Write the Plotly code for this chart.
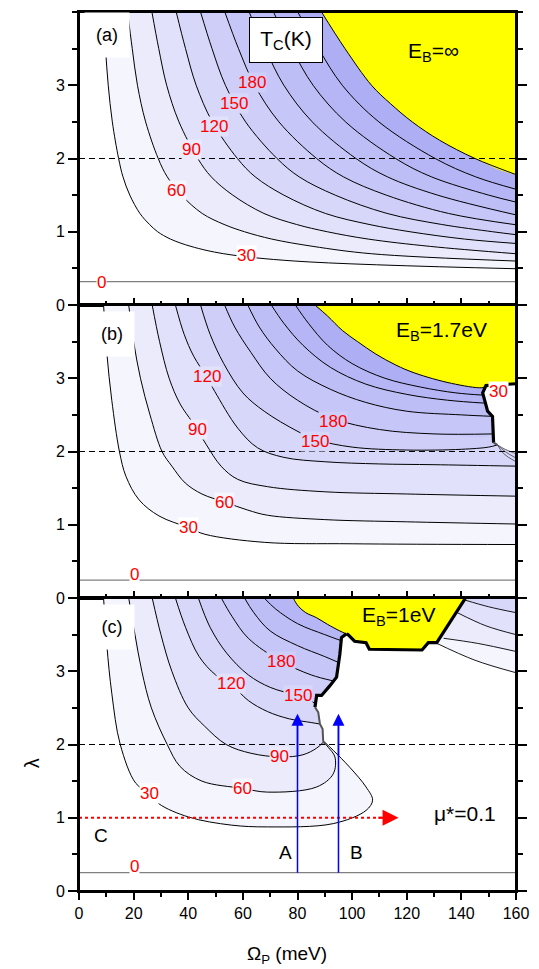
import plotly.graph_objects as go
from plotly.subplots import make_subplots

X_RANGE = [0, 160]
Y_RANGE = [0, 4]
FAR_X, FAR_Y = 200, 4.6          # closure points placed outside the visible axes
FONT = "Liberation Sans, Arial, sans-serif"

LEVELS = [30, 60, 90, 120, 150, 180, 210, 240, 270]
BAND = {0: "#FFFFFF", 30: "#F5F5FE", 60: "#EBEBFC", 90: "#E1E1FB", 120: "#D7D7FA",
        150: "#CECEF9", 180: "#C6C6F8", 210: "#BEBEF7", 240: "#B6B6F6", 270: "#AEAEF5"}
YELLOW = "#FFFF00"

# ---------------- panel (a): E_B = infinity ----------------
A_X = {
    30: [8.9, 9.7, 10.7, 12.2, 14.5, 16.1, 18.6, 22.3, 25.8, 28.8, 33.5, 41.0, 53.0, 79.0, 160],
    60: [17.8, 19.5, 21.4, 24.4, 29.0, 32.3, 37.5, 45.1, 53.1, 60.6, 70.6, 85.7, 107.0, 160],
    90: [26.7, 29.2, 32.1, 36.6, 43.5, 48.4, 56.3, 67.7, 79.6, 90.9, 105.9, 128.6, 160],
    120: [35.6, 39.0, 42.9, 48.8, 58.0, 64.5, 75.0, 90.2, 106.2, 121.2, 141.2, 160],
    150: [44.5, 48.7, 53.6, 61.0, 72.5, 80.6, 93.8, 112.8, 132.7, 151.5, 160],
    180: [53.4, 58.4, 64.3, 73.2, 87.0, 96.8, 112.5, 135.3, 160],
    210: [62.3, 68.2, 75.0, 85.4, 101.4, 112.9, 131.3, 160],
    240: [71.2, 77.9, 85.7, 97.6, 115.9, 129.0, 150.0, 160],
    270: [80.1, 87.7, 96.4, 109.8, 130.4, 145.2, 160],
}
A_LAM = {
    30: [4.0, 3.5, 3.0, 2.5, 2.0, 1.75, 1.5, 1.25, 1.1, 1.0, 0.9, 0.8, 0.7, 0.6, 0.495],
    60: [4.0, 3.5, 3.0, 2.5, 2.0, 1.75, 1.5, 1.25, 1.1, 1.0, 0.9, 0.8, 0.7, 0.6],
    90: [4.0, 3.5, 3.0, 2.5, 2.0, 1.75, 1.5, 1.25, 1.1, 1.0, 0.9, 0.8, 0.7],
    120: [4.0, 3.5, 3.0, 2.5, 2.0, 1.75, 1.5, 1.25, 1.1, 1.0, 0.9, 0.84],
    150: [4.0, 3.5, 3.0, 2.5, 2.0, 1.75, 1.5, 1.25, 1.1, 1.0, 0.96],
    180: [4.0, 3.5, 3.0, 2.5, 2.0, 1.75, 1.5, 1.25, 1.095],
    210: [4.0, 3.5, 3.0, 2.5, 2.0, 1.75, 1.5, 1.23],
    240: [4.0, 3.5, 3.0, 2.5, 2.0, 1.75, 1.5, 1.405],
    270: [4.0, 3.5, 3.0, 2.5, 2.0, 1.75, 1.58],
}
A_YEL_X = [88.8, 97.4, 107.1, 114.0, 122.0, 132.0, 145.0, 160]
A_YEL_L = [4.0, 3.5, 3.0, 2.75, 2.5, 2.25, 2.0, 1.78]
A_ZERO = 0.32
A_LABELS = [("0", 8.2, 0.31, 0), ("30", 61.5, 0.67, 0), ("60", 35.6, 1.56, 30),
            ("90", 41.3, 2.12, 60), ("120", 49.5, 2.44, 90), ("150", 56.9, 2.75, 120),
            ("180", 63.2, 3.04, 150)]

# ---------------- panel (b): E_B = 1.7 eV ----------------
B_X = {
    30: [9.0, 10.2, 12.0, 14.8, 17.2, 22.0, 29.3, 40.1, 46.1, 67.8, 100, 160],
    60: [18.2, 20.0, 22.5, 26.0, 30.4, 34.0, 38.9, 45.0, 53.3, 61.8, 69.0, 90, 120, 160],
    90: [26.8, 29.5, 33.0, 37.0, 41.5, 46.5, 52.0, 58.1, 69, 90, 120, 160],
    120: [35.3, 38.5, 42.0, 46.7, 49.7, 58.1, 65.4, 75, 90, 110, 130, 160],
    150: [44.5, 48, 53, 60, 67.8, 79.8, 87, 100, 120, 140, 150, 153.2],
    180: [53.3, 57, 63, 70, 80, 93, 110, 130, 151.7],
    210: [61.8, 66, 72, 80, 92, 105, 120, 140, 151.4],
    240: [70.4, 75, 82, 92, 105, 120, 135, 148.8],
    270: [79.2, 84, 91, 100, 112, 125, 138, 147.9],
}
B_LAM = {
    30: [4.0, 3.34, 2.7, 2.0, 1.66, 1.34, 1.12, 0.96, 0.87, 0.76, 0.74, 0.73],
    60: [4.0, 3.5, 3.0, 2.5, 2.0, 1.8, 1.57, 1.42, 1.31, 1.20, 1.13, 1.07, 1.04, 1.01],
    90: [4.0, 3.5, 3.0, 2.65, 2.40, 2.10, 1.80, 1.62, 1.52, 1.45, 1.42, 1.39],
    120: [4.0, 3.6, 3.3, 3.02, 2.82, 2.32, 2.05, 1.92, 1.86, 1.83, 1.82, 1.80],
    150: [4.0, 3.6, 3.2, 2.8, 2.55, 2.28, 2.16, 2.06, 2.02, 2.03, 2.06, 2.09],
    180: [4.0, 3.7, 3.35, 3.0, 2.7, 2.45, 2.3, 2.24, 2.24],
    210: [4.0, 3.7, 3.4, 3.1, 2.85, 2.67, 2.55, 2.50, 2.48],
    240: [4.0, 3.75, 3.45, 3.15, 2.92, 2.78, 2.70, 2.66],
    270: [4.0, 3.75, 3.45, 3.2, 3.0, 2.88, 2.80, 2.77],
}
B_YEL_X = [86.4, 91, 96.5, 102, 108.7, 116, 123, 136.4, 147.5, 149.0, 160]
B_YEL_L = [4.0, 3.85, 3.65, 3.50, 3.33, 3.18, 3.07, 2.93, 2.87, 2.89, 2.925]
B_CAP_X = [160, 149.0]                      # thick upper edge of the white pocket
B_CAP_L = [2.925, 2.90]
B_JAG_X = [149.0, 147.8, 148.4, 149.6, 151.4, 151.8]   # thick left edge, top to bottom
B_JAG_L = [2.90, 2.80, 2.71, 2.55, 2.48, 2.12]
B_TAIL_X = [151.8, 153.2]
B_TAIL_L = [2.12, 2.09]
B_FAN = [([153.2, 156, 160], [2.09, 2.03, 1.97]),
         ([153.2, 156, 160], [2.09, 2.00, 1.91]),
         ([153.2, 155.5, 160], [2.09, 1.97, 1.86])]
B_ZERO = 0.245
B_LABELS = [("0", 20.2, 0.32, 0), ("30", 40.1, 0.96, 0), ("60", 53.3, 1.31, 30),
            ("90", 43.3, 2.30, 60), ("120", 46.7, 3.02, 90), ("150", 86.4, 2.14, 120),
            ("180", 93.1, 2.41, 150), ("30", 153.6, 2.82, 0)]

# ---------------- panel (c): E_B = 1 eV ----------------
C_X = {
    30: [9.0, 10.2, 12.0, 15.1, 20.8, 25.9, 29.3, 40.1, 55.7, 69, 93.1, 105.1, 107.5, 105.1, 99.1, 93.1, 90.0],
    60: [18.2, 20.5, 23.0, 26.5, 32.3, 37, 45, 60, 69, 87, 93.1, 93.7, 91.3, 89.6],
    90: [26.8, 30, 34, 40, 46, 53.9, 63, 73.8, 82, 87, 89.4],
    120: [35.3, 39, 44, 50, 55.7, 62, 69, 77, 85, 88.2],
    150: [43.7, 48, 54, 62, 70, 79.8, 84, 86.6],
    180: [52.1, 56, 62, 73.8, 85, 92.9],
    210: [60.6, 64, 70, 80, 90, 95.0],
    240: [67.8, 72, 80, 90, 95.8],
}
C_LAM = {
    30: [4.0, 3.35, 2.7, 2.0, 1.47, 1.33, 1.19, 1.01, 0.90, 0.875, 0.92, 1.10, 1.24, 1.42, 1.69, 1.92, 2.03],
    60: [4.0, 3.5, 3.0, 2.5, 2.0, 1.7, 1.5, 1.40, 1.35, 1.42, 1.60, 1.83, 1.96, 2.03],
    90: [4.0, 3.5, 3.0, 2.5, 2.25, 2.0, 1.88, 1.83, 1.86, 1.95, 2.03],
    120: [4.0, 3.6, 3.2, 2.95, 2.82, 2.6, 2.45, 2.35, 2.30, 2.28],
    150: [4.0, 3.6, 3.25, 2.95, 2.78, 2.67, 2.62, 2.55],
    180: [4.0, 3.75, 3.45, 3.14, 2.95, 2.87],
    210: [4.0, 3.8, 3.55, 3.35, 3.2, 3.12],
    240: [4.0, 3.85, 3.65, 3.5, 3.42],
}
C_YEL_X = [78.5, 79.3, 80.5, 83.0, 87.0, 91.0, 95.5, 97.9]
C_YEL_L = [4.0, 3.94, 3.88, 3.80, 3.73, 3.64, 3.55, 3.51]
C_CAP_X = [97.9, 98.5, 100.9, 105.1, 106.3, 125.6, 127.9, 131.0, 141.2, 141.6]
C_CAP_L = [3.51, 3.50, 3.41, 3.39, 3.30, 3.29, 3.39, 3.39, 3.98, 4.05]
C_JAG_X = [97.9, 96.1, 95.5, 94.9, 94.3, 91.8, 88.8, 87.0, 86.4]      # top to bottom
C_JAG_L = [3.51, 3.46, 3.23, 3.10, 2.92, 2.80, 2.67, 2.67, 2.51]
C_TAIL_X = [86.4, 87.6, 88.2, 89.2, 89.4, 90.0]
C_TAIL_L = [2.51, 2.44, 2.28, 2.21, 2.05, 2.01]
C_SIDE = [  # bands right of the yellow cap: (level colour, x, lambda)
    (30, [130.5, 145, 160], [3.39, 3.15, 2.98]),
    (60, [133.5, 146, 160], [3.45, 3.38, 3.27]),
    (90, [138.5, 149, 160], [3.80, 3.62, 3.50]),
    (120, [141.5, 150, 160], [3.97, 3.88, 3.80]),
]
C_ZERO = 0.25
C_LABELS = [("0", 20.2, 0.33, 0), ("30", 25.9, 1.33, 0), ("60", 60.0, 1.40, 30),
            ("90", 73.4, 1.83, 60), ("120", 55.7, 2.83, 90), ("150", 80.1, 2.67, 120),
            ("180", 73.8, 3.14, 150)]

ARROW_A_X, ARROW_B_X = 80, 95
ARROW_LAM = [0.25, 2.42]
MU_ARROW_LAM = 1.0
MU_ARROW_X = [0, 117]

fig = make_subplots(rows=3, cols=1, shared_xaxes=True, vertical_spacing=0)


def fill(row, xs, ys, color, shape="spline"):
    fig.add_trace(go.Scatter(x=list(xs), y=list(ys), mode="lines", fill="toself", fillcolor=color,
                             line=dict(color="rgba(0,0,0,0)", width=0, shape=shape, smoothing=1.0),
                             hoverinfo="skip", showlegend=False), row=row, col=1)


def line(row, xs, ys, color="black", width=1.0, dash="solid", shape="linear"):
    fig.add_trace(go.Scatter(x=list(xs), y=list(ys), mode="lines",
                             line=dict(color=color, width=width, dash=dash, shape=shape, smoothing=1.0),
                             hoverinfo="skip", showlegend=False), row=row, col=1)


def edge_above(jx, jl, lam_end):
    """Points of a boundary polyline (listed top to bottom) that lie above lam_end, bottom first."""
    pts = [(x, l) for x, l in zip(jx, jl) if l > lam_end + 1e-6]
    pts.reverse()
    return [p[0] for p in pts], [p[1] for p in pts]


def region_right(row, xs, ys, color):
    """Fill everything to the right of / above a curve that runs from the top edge to the right edge."""
    fill(row, list(xs) + [FAR_X, FAR_X, xs[0]], list(ys) + [ys[-1], FAR_Y, FAR_Y], color)


# ---------- panel (a) ----------
for lv in LEVELS:
    region_right(1, A_X[lv], A_LAM[lv], BAND[lv])
region_right(1, A_YEL_X, A_YEL_L, YELLOW)
for lv in LEVELS:
    line(1, A_X[lv], A_LAM[lv], shape="spline")
line(1, A_YEL_X, A_YEL_L, shape="spline")

# ---------- panel (b) ----------
b_edge_x = B_JAG_X + B_TAIL_X[1:]
b_edge_l = B_JAG_L + B_TAIL_L[1:]
for lv in LEVELS:
    xs, ys = B_X[lv], B_LAM[lv]
    if xs[-1] >= X_RANGE[1]:
        region_right(2, xs, ys, BAND[lv])
    else:   # contour stops on the boundary of the white pocket: close along that boundary
        ex, el = edge_above(b_edge_x, b_edge_l, ys[-1])
        fill(2, list(xs) + ex + B_CAP_X[::-1][1:] + [FAR_X, FAR_X, xs[0]],
             list(ys) + el + B_CAP_L[::-1][1:] + [B_CAP_L[0], FAR_Y, FAR_Y], BAND[lv])
# white pocket
fill(2, b_edge_x + B_FAN[0][0][1:] + [FAR_X, FAR_X, b_edge_x[0]],
     b_edge_l + B_FAN[0][1][1:] + [B_FAN[0][1][-1], FAR_Y, FAR_Y], "#FFFFFF", shape="linear")
region_right(2, B_YEL_X, B_YEL_L, YELLOW)
for lv in LEVELS:
    line(2, B_X[lv], B_LAM[lv], shape="spline")
for fx, fl in B_FAN:
    line(2, fx, fl, color="#444444", width=0.8, shape="spline")
line(2, B_YEL_X[:-1], B_YEL_L[:-1], shape="spline")
line(2, B_CAP_X + B_JAG_X[1:], B_CAP_L + B_JAG_L[1:], width=3.2)
line(2, B_TAIL_X, B_TAIL_L, color="#555555", width=2)

# ---------- panel (c) ----------
c_edge_x = C_JAG_X + C_TAIL_X[1:]
c_edge_l = C_JAG_L + C_TAIL_L[1:]
for lv in LEVELS:
    if lv not in C_X:
        continue
    xs, ys = C_X[lv], C_LAM[lv]
    ex, el = edge_above(c_edge_x, c_edge_l, ys[-1])
    fill(3, list(xs) + ex + [C_JAG_X[0], xs[0]], list(ys) + el + [FAR_Y, FAR_Y], BAND[lv])
for lv, sx, sl in C_SIDE:
    region_right(3, sx, sl, BAND[lv])
fill(3, C_YEL_X + C_CAP_X[1:] + [C_CAP_X[-1], C_YEL_X[0]],
     C_YEL_L + C_CAP_L[1:] + [FAR_Y, FAR_Y], YELLOW, shape="linear")
for lv in LEVELS:
    if lv in C_X:
        line(3, C_X[lv], C_LAM[lv], shape="spline")
for lv, sx, sl in C_SIDE:
    line(3, sx, sl, width=0.9, shape="spline")
line(3, C_YEL_X, C_YEL_L, width=1.0, shape="spline")
line(3, C_CAP_X, C_CAP_L, width=3.2)
line(3, C_JAG_X, C_JAG_L, width=3.2)
line(3, C_TAIL_X, C_TAIL_L, color="#555555", width=2)

# ---------- reference lines: T_C = 0 and lambda = 2 ----------
for row, lam in ((1, A_ZERO), (2, B_ZERO), (3, C_ZERO)):
    line(row, X_RANGE, [lam, lam], color="#808080", width=1.2)
    line(row, X_RANGE, [2.0, 2.0], color="black", width=1.0, dash="6px,4px")

# mu* = 0.1 cut (dotted red) and the two vertical cuts A, B
line(3, [MU_ARROW_X[0], MU_ARROW_X[1] - 4], [MU_ARROW_LAM, MU_ARROW_LAM], color="#FF0000", width=2, dash="3px,3px")
for ax_x in (ARROW_A_X, ARROW_B_X):
    line(3, [ax_x, ax_x], [ARROW_LAM[0], ARROW_LAM[1] - 0.12], color="#0000FF", width=1.5)

REFS = {1: ("x", "y"), 2: ("x2", "y2"), 3: ("x3", "y3")}


def note(row, text, x, y, size=17, color="black", bg=None, **kw):
    xr, yr = REFS[row]
    fig.add_annotation(x=x, y=y, xref=xr, yref=yr, text=text, showarrow=False,
                       font=dict(family=FONT, size=size, color=color),
                       bgcolor=bg, borderpad=0, **kw)


def arrow(row, x, y, ax, ay, color, width):
    xr, yr = REFS[row]
    fig.add_annotation(x=x, y=y, ax=ax, ay=ay, xref=xr, yref=yr, axref=xr, ayref=yr,
                       text="", showarrow=True, arrowhead=2, arrowsize=1.6,
                       arrowwidth=width, arrowcolor=color)


for row, labels in ((1, A_LABELS), (2, B_LABELS), (3, C_LABELS)):
    for txt, x, y, under in labels:
        note(row, txt, x, y, size=17, color="#FF0000", bg=BAND[under])

arrow(3, ARROW_A_X, ARROW_LAM[1], ARROW_A_X, ARROW_LAM[1] - 0.6, "#0000FF", 1.5)
arrow(3, ARROW_B_X, ARROW_LAM[1], ARROW_B_X, ARROW_LAM[1] - 0.6, "#0000FF", 1.5)
arrow(3, MU_ARROW_X[1], MU_ARROW_LAM, MU_ARROW_X[1] - 8, MU_ARROW_LAM, "#FF0000", 2)

# panel tags in white boxes
for row, tag, x, y in ((1, "(a)", 10.3, 3.69), (2, "(b)", 12.1, 3.61), (3, "(c)", 12.1, 3.61)):
    xr, yr = REFS[row]
    fig.add_annotation(x=x, y=y, xref=xr, yref=yr, text=tag, showarrow=False,
                       font=dict(family=FONT, size=18, color="black"),
                       bgcolor="white", width=40, height=40, borderpad=2)

fig.add_annotation(x=75.8, y=3.615, xref="x", yref="y", text="T<sub>C</sub>(K)", showarrow=False,
                   font=dict(family=FONT, size=21, color="black"), bgcolor="white",
                   bordercolor="black", borderwidth=1, width=68, height=40, borderpad=2)
note(1, "E<sub>B</sub>=\u221e", 129.8, 3.45, size=21)
note(2, "E<sub>B</sub>=1.7eV", 132.8, 3.64, size=21)
note(3, "E<sub>B</sub>=1eV", 117.1, 3.76, size=21)
note(3, "\u03bc*=0.1", 141.2, 1.06, size=21)
note(3, "A", 75.6, 0.53, size=19)
note(3, "B", 101.5, 0.53, size=19)
note(3, "C", 8.2, 0.76, size=19)

fig.add_annotation(x=-0.138, y=0.137, xref="paper", yref="paper", text="\u03bb", showarrow=False,
                   textangle=-90, font=dict(family=FONT, size=20, color="black"))
fig.add_annotation(x=0.476, y=-0.0726, xref="paper", yref="paper", yanchor="middle",
                   text="\u03a9<sub>P</sub> (meV)", showarrow=False,
                   font=dict(family=FONT, size=19, color="black"))

axis_common = dict(showgrid=False, zeroline=False, showline=True, linewidth=2, linecolor="black",
                   tickcolor="black", tickwidth=1.5, tickfont=dict(family=FONT, size=16, color="black"))
for row in (1, 2, 3):
    last = row == 3
    fig.update_xaxes(range=X_RANGE, tickvals=list(range(0, 161, 20)), mirror=True,
                     ticks="outside" if last else "inside", ticklen=7,
                     showticklabels=last,
                     minor=dict(dtick=10, tick0=0, ticklen=4, ticks="outside" if last else "inside",
                                tickwidth=1.5, tickcolor="black"),
                     row=row, col=1, **axis_common)
    fig.update_yaxes(range=Y_RANGE, tickvals=[0, 1, 2, 3], mirror="ticks", ticks="outside", ticklen=9,
                     minor=dict(dtick=0.5, tick0=0, ticklen=5, ticks="outside", tickwidth=1.5,
                                tickcolor="black"),
                     row=row, col=1, **axis_common)

# frame lines drawn above every panel so neighbouring panels cannot hide them
frame = [dict(x0=0, x1=1, y0=v, y1=v) for v in (0, 1 / 3, 2 / 3, 1)]
frame += [dict(x0=v, x1=v, y0=0, y1=1) for v in (0, 1)]
for f in frame:
    fig.add_shape(type="line", xref="paper", yref="paper", layer="above",
                  line=dict(color="black", width=2), **f)

fig.update_layout(width=539, height=969, margin=dict(l=79, r=17, t=10, b=78),
                  paper_bgcolor="white", plot_bgcolor="white", showlegend=False,
                  font=dict(family=FONT))
fig.write_html("out.html")
